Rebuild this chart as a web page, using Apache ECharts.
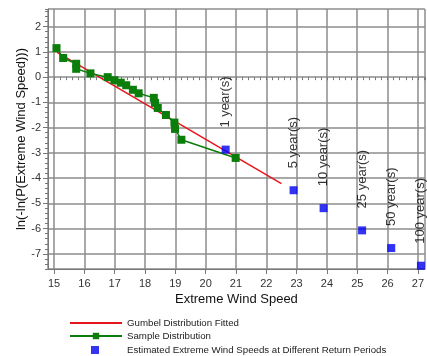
<!DOCTYPE html>
<html>
<head>
<meta charset="utf-8">
<script src="https://cdn.jsdelivr.net/npm/echarts@6/dist/echarts.min.js"></script>
<style>
  html, body { margin: 0; padding: 0; background: #fff; }
  #chart { width: 427px; height: 356px; }
</style>
</head>
<body>
<div id="chart"></div>
<script>
// Gumbel fit (two end points of the straight line)
const gumbelX = [15.1, 22.5]
const gumbelY = [0.98, -4.22]

// sample distribution
const sampleX = [15.08, 15.30, 15.73, 15.73, 16.2, 16.77, 16.99, 17.2, 17.38, 17.6, 17.79, 18.29, 18.33, 18.42, 18.69, 18.97, 18.99, 19.2, 20.99]
const sampleY = [1.15, 0.76, 0.53, 0.33, 0.15, 0.0, -0.12, -0.22, -0.32, -0.5, -0.64, -0.82, -1.02, -1.22, -1.5, -1.8, -2.05, -2.48, -3.2]

// estimated extreme wind speeds at return periods
const returnX = [20.66, 22.9, 23.89, 25.16, 26.12, 27.1]
const returnY = [-2.87, -4.48, -5.19, -6.07, -6.77, -7.47]
const returnLabels = ['1 year(s)', '5 year(s)', '10 year(s)', '25 year(s)', '50 year(s)', '100 year(s)']

const seriesNames = ['Gumbel Distribution Fitted', 'Sample Distribution', 'Estimated Extreme Wind Speeds at Different Return Periods']

const xMin = 14.8
const xMax = 27.23
const yMin = -7.6
const yMax = 2.7

const font = 'Arial, "Liberation Sans", sans-serif'
const gridColor = '#8c8c8c'
const axisColor = '#777'

const zip = (xs, ys) => xs.map((x, i) => [x, ys[i]])

const legendText = { fontFamily: font, fontSize: 9.7, color: '#222' }

const chart = echarts.init(document.getElementById('chart'), null, { renderer: 'canvas' })

const option = {
  animation: false,
  backgroundColor: '#fff',
  grid: {
    left: 48,
    right: 0,
    top: 9,
    bottom: 87,
  },
  // one legend per row so they stack like the original
  legend: [
    {
      left: 69,
      top: 318,
      padding: 0,
      itemWidth: 52,
      itemHeight: 8,
      itemStyle: { opacity: 0 },
      textStyle: legendText,
      data: [seriesNames[0]],
    },
    {
      left: 69,
      top: 331,
      padding: 0,
      itemWidth: 52,
      itemHeight: 8,
      textStyle: legendText,
      data: [seriesNames[1]],
    },
    {
      left: 91,
      top: 345,
      padding: 0,
      itemWidth: 8,
      itemHeight: 8,
      textStyle: Object.assign({}, legendText, { padding: [0, 0, 0, 23] }),
      data: [seriesNames[2]],
    },
  ],
  xAxis: [
    {
      type: 'value',
      min: xMin,
      max: xMax,
      minInterval: 1,
      maxInterval: 1,
      splitNumber: 12,
      name: 'Extreme Wind Speed',
      nameLocation: 'middle',
      nameGap: 24,
      nameMoveOverlap: false,
      nameTextStyle: { fontFamily: font, fontSize: 13, color: '#111' },
      axisLine: { show: true, onZero: false, lineStyle: { color: axisColor, width: 1 } },
      axisTick: { show: true, length: 5, lineStyle: { color: axisColor } },
      axisLabel: { fontFamily: font, fontSize: 11, color: '#333', margin: 9, showMinLabel: false, showMaxLabel: false },
      splitLine: { show: true, lineStyle: { color: gridColor, width: 1.5 } },
    },
    {
      // minor ticks every 0.2
      type: 'value',
      position: 'bottom',
      min: xMin,
      max: xMax,
      interval: 0.2,
      axisLine: { show: false },
      axisTick: { show: true, length: 3, lineStyle: { color: axisColor } },
      axisLabel: { show: false },
      splitLine: { show: false },
    },
  ],
  yAxis: [
    {
      type: 'value',
      min: yMin,
      max: yMax,
      minInterval: 1,
      maxInterval: 1,
      splitNumber: 10,
      name: 'ln(-ln(P(Extreme Wind Speed)))',
      nameLocation: 'middle',
      nameRotate: 90,
      nameGap: 20,
      nameMoveOverlap: false,
      nameTextStyle: { fontFamily: font, fontSize: 13, color: '#111' },
      axisLine: { show: true, onZero: false, lineStyle: { color: axisColor, width: 1 } },
      axisTick: { show: true, length: 5, lineStyle: { color: axisColor } },
      axisLabel: { fontFamily: font, fontSize: 11, color: '#333', margin: 7, showMinLabel: false, showMaxLabel: false },
      splitLine: { show: true, lineStyle: { color: gridColor, width: 1.5 } },
    },
    {
      type: 'value',
      position: 'left',
      min: yMin,
      max: yMax,
      interval: 0.2,
      axisLine: { show: false },
      axisTick: { show: true, length: 3, lineStyle: { color: axisColor } },
      axisLabel: { show: false },
      splitLine: { show: false },
    },
  ],
  series: [
    {
      name: seriesNames[0],
      type: 'line',
      data: zip(gumbelX, gumbelY),
      showSymbol: false,
      symbol: 'none',
      lineStyle: { color: '#e8141c', width: 1.5 },
      itemStyle: { color: '#e8141c' },
      z: 3,
    },
    {
      name: seriesNames[1],
      type: 'line',
      data: zip(sampleX, sampleY),
      symbol: 'rect',
      symbolSize: 8,
      lineStyle: { color: '#0a7d0a', width: 1.5 },
      itemStyle: { color: '#0a7d0a' },
      z: 4,
    },
    {
      name: seriesNames[2],
      type: 'scatter',
      data: zip(returnX, returnY),
      symbol: 'rect',
      symbolSize: 8,
      itemStyle: { color: '#0000f0' },
      label: {
        show: true,
        position: 'top',
        distance: 18,
        rotate: 90,
        align: 'left',
        verticalAlign: 'middle',
        fontFamily: font,
        fontSize: 13,
        color: '#000',
        formatter: (p) => returnLabels[p.dataIndex],
      },
      z: 5,
    },
  ],
}

chart.setOption(option)
</script>
</body>
</html>
